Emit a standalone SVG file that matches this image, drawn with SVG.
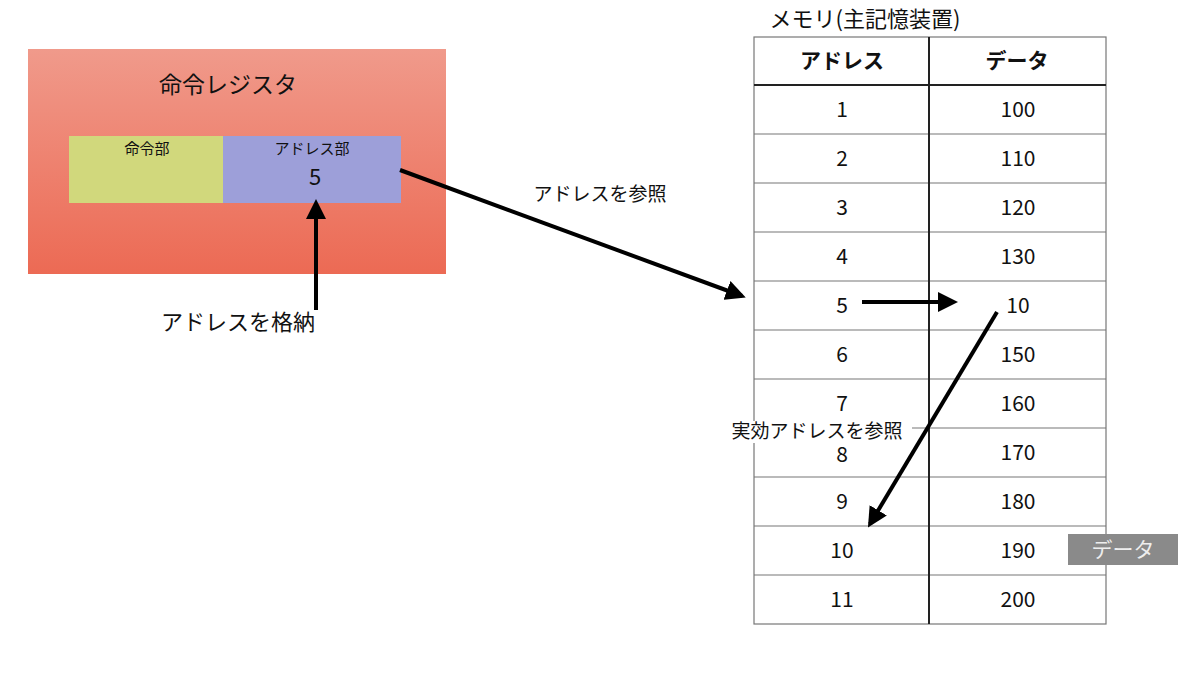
<svg xmlns="http://www.w3.org/2000/svg" width="1200" height="679" viewBox="0 0 1200 679">
<style>
text{font-family:"Noto Sans CJK JP","Noto Sans",sans-serif;fill:#111;text-anchor:middle}
.c{font-size:21px}
.h{font-size:21px;font-weight:bold}
.g{stroke:#777;stroke-width:1.2}
.a{stroke:#000;stroke-width:4;fill:none;marker-end:url(#ah)}
</style>
<defs>
<linearGradient id="rg" x1="0" y1="0" x2="0" y2="1"><stop offset="0" stop-color="#f09a8b"/><stop offset="1" stop-color="#ec6a54"/></linearGradient>
<marker id="ah" markerWidth="5" markerHeight="5" refX="4" refY="2.5" orient="auto"><path d="M0,0L5,2.5L0,5z" fill="#000"/></marker>
</defs>
<rect width="1200" height="679" fill="#fff"/>
<g id="register">
<rect x="28" y="49" width="418" height="225" fill="url(#rg)"/>
<text x="228" y="93" font-size="23">命令レジスタ</text>
</g>
<g id="opcode"><rect x="69" y="136" width="154" height="67" fill="#d1d87c"/><text x="147" y="154" font-size="15">命令部</text></g>
<g id="addrpart"><rect x="223" y="136" width="178" height="67" fill="#9d9fd9"/><text x="312" y="154" font-size="15">アドレス部</text><text x="315" y="185" font-size="22">5</text></g>
<g id="memory">
<text x="865" y="27" font-size="22">メモリ(主記憶装置)</text>
<rect x="754" y="37" width="352" height="587" fill="#fff" class="g"/>
<g class="g">
<line x1="754" y1="134" x2="1106" y2="134"/><line x1="754" y1="183" x2="1106" y2="183"/><line x1="754" y1="232" x2="1106" y2="232"/><line x1="754" y1="281" x2="1106" y2="281"/><line x1="754" y1="330" x2="1106" y2="330"/><line x1="754" y1="379" x2="1106" y2="379"/><line x1="754" y1="428" x2="1106" y2="428"/><line x1="754" y1="477" x2="1106" y2="477"/><line x1="754" y1="526" x2="1106" y2="526"/><line x1="754" y1="575" x2="1106" y2="575"/>
</g>
<line x1="754" y1="85" x2="1106" y2="85" stroke="#222" stroke-width="2"/>
<line x1="929" y1="37" x2="929" y2="624" stroke="#222" stroke-width="2"/>
<text class="h" x="842" y="68">アドレス</text><text class="h" x="1017" y="68">データ</text>
<g class="c">
<text x="842" y="117">1</text><text x="1018" y="117">100</text>
<text x="842" y="166">2</text><text x="1018" y="166">110</text>
<text x="842" y="215">3</text><text x="1018" y="215">120</text>
<text x="842" y="264">4</text><text x="1018" y="264">130</text>
<text x="842" y="313">5</text><text x="1018" y="313">10</text>
<text x="842" y="362">6</text><text x="1018" y="362">150</text>
<text x="842" y="411">7</text><text x="1018" y="411">160</text>
<text x="842" y="462">8</text><text x="1018" y="460">170</text>
<text x="842" y="509">9</text><text x="1018" y="509">180</text>
<text x="842" y="558">10</text><text x="1018" y="558">190</text>
<text x="842" y="607">11</text><text x="1018" y="607">200</text>
</g>
</g>
<g id="connectors">
<line class="a" x1="400" y1="170" x2="742" y2="296"/>
<line class="a" x1="316" y1="310" x2="316" y2="203"/>
<line class="a" x1="862" y1="302" x2="954" y2="302"/>
<line class="a" x1="997" y1="312" x2="870" y2="524"/>
</g>
<text x="600" y="201" font-size="19">アドレスを参照</text>
<text x="238" y="330" font-size="22">アドレスを格納</text>
<rect x="722" y="421" width="190" height="22" fill="#fff"/>
<text x="817" y="438" font-size="19">実効アドレスを参照</text>
<g id="data-tag"><rect x="1068" y="534" width="110" height="31" fill="#8a8a8a"/><text x="1123" y="557" font-size="21" style="fill:#eee">データ</text></g>
</svg>
